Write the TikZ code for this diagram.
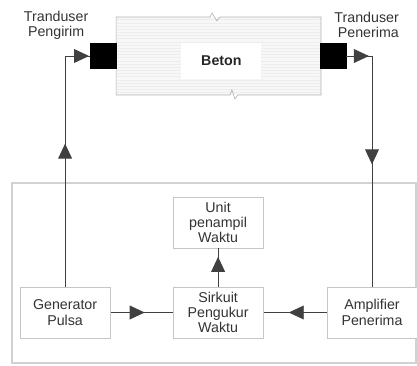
\documentclass[tikz,border=0pt]{standalone}
\usepackage{fontspec}
\setmainfont{Liberation Sans}
\usetikzlibrary{arrows.meta,decorations.markings,patterns}

\tikzset{
  blok/.style={draw=gray!45, thick, fill=white, minimum width=3cm, minimum height=1.7cm, align=center, text=black!80, inner sep=1pt},
  trans/.style={draw=black, fill=black, minimum width=0.86cm, minimum height=0.84cm, inner sep=0pt},
  garis/.style={draw=black!75, line width=0.9pt},
  panah/.style={decoration={markings, mark=at position #1 with {\arrow{Triangle[length=5mm,width=4.6mm]}}}, postaction={decorate}}
}

\begin{document}
\begin{tikzpicture}[font=\fontsize{13.5}{14.5}\selectfont]
  \useasboundingbox (0,0) rectangle (13.9,12.167);
  % bingkai bawah
  \draw[gray!35, line width=1.6pt] (0.4,0.07) rectangle (13.87,6.07);
  % beton
  \fill[gray!6] (3.87,9.0) rectangle (10.70,11.6);
  \fill[pattern=horizontal lines, pattern color=gray!14] (3.87,9.0) rectangle (10.70,11.6);
  \draw[gray!60, line width=0.6pt] (3.87,9.0) -- (3.87,11.6) -- (7.0,11.6) -- (7.07,11.73) -- (7.23,11.47) -- (7.33,11.6) -- (10.70,11.6)
    -- (10.70,9.0) -- (7.93,9.0) -- (7.83,8.87) -- (7.73,9.17) -- (7.67,9.0) -- cycle;
  \node[fill=white, minimum width=2.67cm, minimum height=1.2cm, font=\fontsize{13.5}{14.5}\selectfont\bfseries, text=black!85] (beton) at (7.38,10.15) {Beton};
  \node[trans] (tl) at (3.43,10.3) {};
  \node[trans] (tr) at (11.1,10.3) {};
  \node[align=center, text=black!80, inner sep=0pt] (lbl1) at (1.87,11.33) {Tranduser\\Pengirim};
  \node[align=right, text=black!80, inner sep=0pt, anchor=east] (lbl2) at (13.3,11.33) {Tranduser\\Penerima};
  % blok rangkaian
  \node[blok] (unit) at (7.27,4.75) {Unit\\penampil\\Waktu};
  \node[blok] (gen)  at (2.17,1.75) {Generator\\Pulsa};
  \node[blok] (sirk) at (7.27,1.75) {Sirkuit\\Pengukur\\Waktu};
  \node[blok] (amp)  at (12.4,1.75) {Amplifier\\Penerima};
  \coordinate (kiri) at (gen.north |- tl);
  \coordinate (kanan) at (amp.north |- tr);
  \draw[garis, panah=0.62] (gen.north) -- (kiri);
  \draw[garis, panah=0.97] (kiri) -- (tl.west);
  \draw[garis, panah=0.88] (tr.east) -- (kanan);
  \draw[garis, panah=0.47] (kanan) -- (amp.north);
  \draw[garis, panah=0.55] (gen.east) -- (sirk.west);
  \draw[garis, panah=0.6] (amp.west) -- (sirk.east);
  \draw[garis, panah=0.78] (sirk.north) -- (unit.south);
\end{tikzpicture}
\end{document}
